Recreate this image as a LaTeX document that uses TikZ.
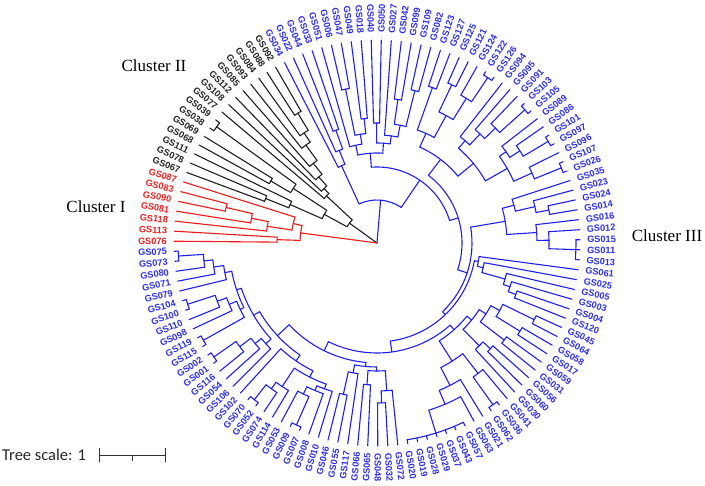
\documentclass[tikz,border=0pt]{standalone}
\usepackage{fontspec}
\setmainfont{Liberation Serif}
\newfontfamily\labfont{Liberation Sans}
\newfontfamily\scfont{Carlito}
\definecolor{tblue}{RGB}{30,30,240}
\definecolor{tred}{RGB}{238,25,25}
\definecolor{tblack}{RGB}{30,30,30}
\definecolor{lblue}{RGB}{45,45,235}
\definecolor{lred}{RGB}{235,30,30}
\definecolor{lblack}{RGB}{35,35,35}
\tikzset{
  bl/.style={draw=tblue, line width=1.1pt, line cap=round},
  rl/.style={draw=tred, line width=1.1pt, line cap=round},
  kl/.style={draw=tblack, line width=1.1pt, line cap=round},
  leader/.style={draw=gray!45, dotted, line width=0.5pt},
  leaf/.style={font=\labfont\bfseries\fontsize{9.2}{10}\selectfont, inner sep=0.6pt},
  clusterlab/.style={font=\fontsize{17}{20}\selectfont, text=black},
  scalelab/.style={font=\scfont\fontsize{16.5}{19}\selectfont, text=black!85, anchor=west, inner sep=0pt},
  scalebar/.style={draw=black!80, line width=0.8pt}
}
\makeatletter
\def\Rtip{203}
\newcommand\setleaf[2]{%
  \pgfmathsetmacro\sl@a{179.5-#2*2.8346}%
  \expandafter\xdef\csname ang@#1\endcsname{\sl@a}%
  \expandafter\xdef\csname rad@#1\endcsname{\Rtip}%
}
\newcommand\cl[4]{%
  \gdef\cl@first{}%
  \foreach \cl@k in {#4}{%
    \ifx\cl@first\@empty\xdef\cl@first{\cl@k}\fi
    \xdef\cl@last{\cl@k}%
    \edef\cl@ca{\csname ang@\cl@k\endcsname}%
    \edef\cl@cr{\csname rad@\cl@k\endcsname}%
    \draw[#1] (\cl@ca:#3pt) -- (\cl@ca:\cl@cr pt);
  }%
  \edef\cl@a{\csname ang@\cl@first\endcsname}%
  \edef\cl@b{\csname ang@\cl@last\endcsname}%
  \draw[#1] (\cl@a:#3pt) arc[start angle=\cl@a, end angle=\cl@b, radius=#3pt];
  \pgfmathsetmacro\cl@m{(\cl@a+\cl@b)/2}%
  \expandafter\xdef\csname ang@#2\endcsname{\cl@m}%
  \expandafter\xdef\csname rad@#2\endcsname{#3}%
}
\newcommand\rootline[2]{%
  \edef\rl@a{\csname ang@#2\endcsname}%
  \edef\rl@r{\csname rad@#2\endcsname}%
  \draw[#1] (0,0) -- (\rl@a:\rl@r pt);
}
\newcommand\leaflabel[3]{%
  \pgfmathsetmacro\ll@a{179.5-#2*2.8346}%
  \draw[leader] (\ll@a:\Rtip pt) -- (\ll@a:208.5pt);
  \pgfmathsetmacro\ll@abs{abs(\ll@a)}%
  \ifdim\ll@abs pt>90pt
    \pgfmathsetmacro\ll@r{\ll@a+180}%
    \node[leaf,text=#3,rotate=\ll@r,anchor=east] (#1) at (\ll@a:209.5pt) {#1};%
  \else
    \node[leaf,text=#3,rotate=\ll@a,anchor=west] (#1) at (\ll@a:209.5pt) {#1};%
  \fi
}
\makeatother
\def\leaflist{GS076,GS113,GS118,GS081,GS090,GS083,GS087,GS067,GS078,GS111,GS068,GS069,GS038,GS039,GS077,GS108,GS112,GS085,GS093,GS084,GS088,GS092,GS034,GS022,GS044,GS033,GS051,GS006,GS047,GS049,GS018,GS040,GS050,GS027,GS042,GS099,GS109,GS082,GS123,GS127,GS125,GS121,GS124,GS122,GS126,GS094,GS095,GS091,GS103,GS105,GS089,GS086,GS101,GS097,GS096,GS107,GS026,GS035,GS023,GS024,GS014,GS016,GS012,GS015,GS011,GS013,GS061,GS025,GS005,GS003,GS004,GS120,GS045,GS064,GS058,GS017,GS059,GS031,GS056,GS060,GS030,GS041,GS036,GS062,GS021,GS063,GS057,GS043,GS037,GS029,GS028,GS019,GS020,GS072,GS032,GS048,GS065,GS066,GS117,GS055,GS046,GS010,GS008,GS007,GS009,GS053,GS114,GS074,GS052,GS070,GS102,GS106,GS054,GS116,GS001,GS002,GS115,GS119,GS098,GS110,GS100,GS104,GS079,GS071,GS080,GS073,GS075}
\begin{document}
\begin{tikzpicture}[x=1pt,y=1pt]
\useasboundingbox (0,0) rectangle (705,486);
\begin{scope}[shift={(377,243)}]
% leaves
\foreach \nm [count=\i from 0] in \leaflist {%
  \edef\tmp{\noexpand\setleaf{\nm}{\i}}\tmp}
% red cluster
\cl{rl}{ra}{155}{GS090,GS083}
\cl{rl}{rb}{128}{GS081,ra}
\cl{rl}{rc}{111}{GS118,rb}
\cl{rl}{rd}{100}{GS076,GS113}
\cl{rl}{re}{86}{rc,GS087}
\cl{rl}{REDROOT}{77}{rd,re}
% black cluster
\cl{kl}{kk}{198}{GS038,GS039}
\cl{kl}{m1}{120}{GS067,GS078}
\cl{kl}{m2}{95}{m1,GS111}
\cl{kl}{m3}{123}{GS068,GS069}
\cl{kl}{m4}{100}{m3,kk}
\cl{kl}{m5}{60}{m2,m4}
\cl{kl}{k1}{152}{GS088,GS092}
\cl{kl}{k2}{132}{GS084,k1}
\cl{kl}{k3}{121}{GS093,k2}
\cl{kl}{k4}{102}{GS085,k3}
\cl{kl}{k5}{88}{GS112,k4}
\cl{kl}{k6}{76}{GS108,k5}
\cl{kl}{k7}{69}{GS077,k6}
\cl{kl}{BLACKROOT}{34}{m5,k7}
% blue: T1
\cl{bl}{t1a}{120}{GS044,GS033}
\cl{bl}{t1b}{100}{GS022,t1a}
\cl{bl}{T1}{85}{GS034,t1b}
% T2
\cl{bl}{a1}{157}{GS006,GS047}
\cl{bl}{a2}{125}{GS049,GS018}
\cl{bl}{T2b}{110}{a1,a2}
\cl{bl}{g1}{100}{GS051,T2b}
\cl{bl}{g3}{120}{GS040,GS050}
\cl{bl}{a3}{145}{GS042,GS099}
\cl{bl}{a4}{157}{GS109,GS082}
\cl{bl}{a5}{120}{a3,a4}
\cl{bl}{g2}{108}{GS027,a5}
\cl{bl}{g4}{100}{g3,g2}
\cl{bl}{T2}{90}{g1,g4}
% T3
\cl{bl}{t1}{165}{GS123,GS127}
\cl{bl}{t2}{175}{GS125,GS121}
\cl{bl}{t3}{199}{GS122,GS126}
\cl{bl}{t4}{170}{GS124,t3}
\cl{bl}{t5}{145}{t2,t4}
\cl{bl}{t6}{120}{t1,t5}
\cl{bl}{u1}{199}{GS103,GS105}
\cl{bl}{u2}{165}{GS091,u1}
\cl{bl}{u3}{150}{GS095,u2}
\cl{bl}{u4}{135}{GS094,u3}
\cl{bl}{v1}{199}{GS101,GS097}
\cl{bl}{v2}{170}{GS086,v1}
\cl{bl}{v3}{158}{GS089,v2}
\cl{bl}{w1}{199}{GS107,GS026}
\cl{bl}{w2}{170}{GS096,w1}
\cl{bl}{v4}{150}{v3,w2}
\cl{bl}{u5}{125}{u4,v4}
\cl{bl}{T3}{105}{t6,u5}
% R
\cl{bl}{r1}{175}{GS024,GS014}
\cl{bl}{r2}{162}{GS023,r1}
\cl{bl}{r3}{142}{GS035,r2}
\cl{bl}{r4}{199}{GS015,GS011,GS013}
\cl{bl}{r5}{172}{GS012,r4}
\cl{bl}{r6}{160}{GS016,r5}
\cl{bl}{R}{130}{r3,r6}
% LR1
\cl{bl}{e1}{148}{GS004,GS120}
\cl{bl}{e2}{140}{GS003,e1}
\cl{bl}{e3}{133}{GS005,e2}
\cl{bl}{e4}{109}{GS025,e3}
\cl{bl}{LRa}{103}{GS061,e4}
% LR2
\cl{bl}{d1}{175}{GS045,GS064}
\cl{bl}{d2}{168}{GS058,GS017}
\cl{bl}{d3}{140}{d1,d2}
\cl{bl}{d4}{160}{GS059,GS031}
\cl{bl}{d5}{130}{d3,d4}
\cl{bl}{d6}{155}{GS056,GS060}
\cl{bl}{d7}{145}{d6,GS030}
\cl{bl}{d8}{122}{d5,d7}
\cl{bl}{c4}{199}{GS036,GS062}
\cl{bl}{c5}{165}{GS041,c4}
\cl{bl}{c1}{199}{GS057,GS043,GS037,GS029,GS028,GS019,GS020}
\cl{bl}{c2}{175}{GS063,c1}
\cl{bl}{c3}{160}{GS021,c2}
\cl{bl}{c6}{140}{c5,c3}
\cl{bl}{LRb}{116}{d8,c6}
% B
\cl{bl}{b1}{160}{GS032,GS048}
\cl{bl}{b2}{148}{GS072,b1}
\cl{bl}{b3}{142}{GS065,GS066}
\cl{bl}{b4}{128}{b2,b3}
\cl{bl}{b5}{155}{GS055,GS046}
\cl{bl}{b6}{132}{GS117,b5}
\cl{bl}{B}{124}{b4,b6}
% BL
\cl{bl}{bd}{199}{GS007,GS009}
\cl{bl}{be}{168}{bd,GS053}
\cl{bl}{bf}{160}{GS008,be}
\cl{bl}{bg}{155}{GS010,bf}
\cl{bl}{ba}{199}{GS052,GS070}
\cl{bl}{bb}{180}{GS074,ba}
\cl{bl}{bc}{172}{GS114,bb}
\cl{bl}{bh}{150}{bg,bc}
\cl{bl}{BL}{143}{bh,GS102}
% L
\cl{bl}{lj}{199}{GS001,GS002}
\cl{bl}{lk}{172}{GS116,lj}
\cl{bl}{ll}{158}{GS054,lk}
\cl{bl}{lm}{150}{GS106,ll}
\cl{bl}{lh}{199}{GS115,GS119}
\cl{bl}{le}{199}{GS100,GS104}
\cl{bl}{lf}{170}{GS110,le}
\cl{bl}{lg}{160}{GS098,lf}
\cl{bl}{li}{152}{lh,lg}
\cl{bl}{la}{199}{GS073,GS075}
\cl{bl}{lb}{174}{GS080,la}
\cl{bl}{lc}{165}{GS071,lb}
\cl{bl}{ld}{155}{GS079,lc}
\cl{bl}{lq}{148}{li,ld}
\cl{bl}{L}{143}{lm,lq}
% blue spine
\cl{bl}{N7}{136}{BL,L}
\cl{bl}{N6}{120}{B,N7}
\cl{bl}{N5}{110}{LRb,N6}
\cl{bl}{N4}{99}{LRa,N5}
\cl{bl}{N3}{95}{R,N4}
\cl{bl}{N2}{85}{T3,N3}
\cl{bl}{N1}{76}{T2,N2}
\cl{bl}{N0}{43}{T1,N1}
% root
\rootline{bl}{N0}
\rootline{kl}{BLACKROOT}
\rootline{rl}{REDROOT}
% labels
\foreach \nm [count=\i from 0] in \leaflist {%
  \ifnum\i<7 \def\lcol{lred}\else\ifnum\i<22 \def\lcol{lblack}\else\def\lcol{lblue}\fi\fi
  \edef\tmp{\noexpand\leaflabel{\nm}{\i}{\lcol}}\tmp}
\end{scope}
% cluster names
\node[clusterlab] (cI) at (96,279) {Cluster I};
\node[clusterlab] (cII) at (154,420) {Cluster II};
\node[clusterlab] (cIII) at (667,250) {Cluster III};
% scale
\node[scalelab] (ts) at (2,31) {Tree scale: 1};
\coordinate (s0) at (99,31);
\coordinate (sm) at (132,31);
\coordinate (s1) at (165,31);
\draw[scalebar] (s0) -- (s1);
\draw[scalebar] ([yshift=7pt]s0) -- ([yshift=-7pt]s0);
\draw[scalebar] ([yshift=7pt]s1) -- ([yshift=-7pt]s1);
\draw[scalebar] (sm) -- ([yshift=-6pt]sm);
\end{tikzpicture}
\end{document}
